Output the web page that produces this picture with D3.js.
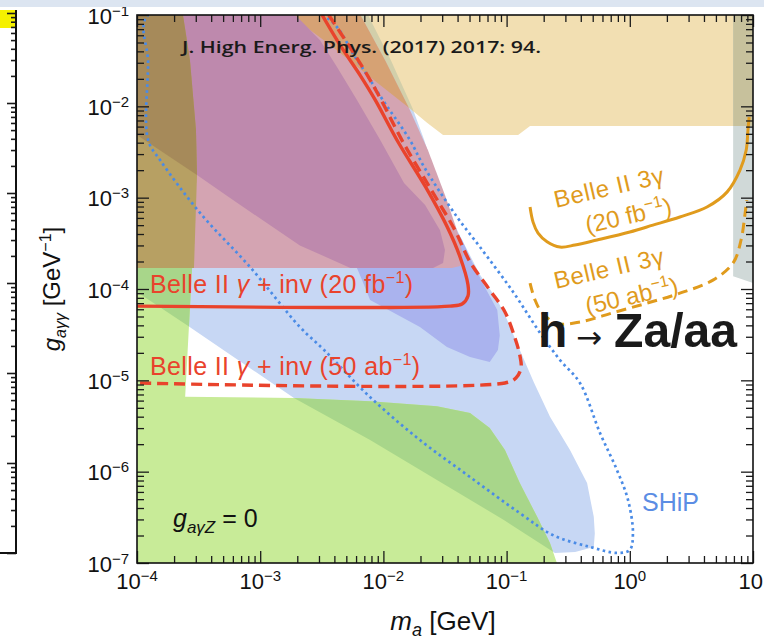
<!DOCTYPE html>
<html>
<head>
<meta charset="utf-8">
<title>ALP photon coupling limits</title>
<script src="https://cdn.jsdelivr.net/npm/d3@7/dist/d3.min.js"></script>
<style>
  html, body { margin: 0; padding: 0; background: #fff; }
  svg { display: block; }
</style>
</head>
<body>
<svg id="chart" width="764" height="642"></svg>
<script>
// Every point is [m_a in GeV, g_aγγ in GeV^-1].

// Excluded regions
const beamDumpRegion = [
  [1e-4, 1e-1], [7.5e-3, 1e-1], [1.15e-2, 3.2e-2], [1.72e-2, 9.6e-3], [2.14e-2, 4.3e-3],
  [2.65e-2, 1.77e-3], [3.3e-2, 7.3e-4], [4.35e-2, 3.44e-4], [6.1e-2, 1.42e-4], [8.4e-2, 7.6e-5],
  [1.01e-1, 4.6e-5], [1.28e-1, 2.15e-5], [1.67e-1, 9.4e-6], [2.25e-1, 4.0e-6], [3.27e-1, 1.73e-6],
  [4.5e-1, 7.5e-7], [5.1e-1, 3.2e-7], [5.2e-1, 2.1e-7], [5.1e-1, 1.5e-7], [3.6e-1, 1.32e-7],
  [2.47e-1, 1.29e-7], [9.5e-2, 2.96e-7], [2.72e-2, 8.1e-7], [7.8e-3, 2.22e-6], [1.88e-3, 6.4e-6],
  [2.55e-4, 4.0e-5], [1e-4, 9.3e-5]
];
const cosmologyRegion = [
  [1e-4, 1.7e-4], [2.8e-4, 1.7e-4], [2.46e-4, 6.6e-6], [1.88e-3, 6.4e-6], [7.8e-3, 5.9e-6],
  [2.72e-2, 5.2e-6], [5.05e-2, 4.4e-6], [7.3e-2, 3.0e-6], [9.7e-2, 1.73e-6], [1.28e-1, 7.5e-7],
  [1.77e-1, 3.2e-7], [2.25e-1, 1.66e-7], [2.56e-1, 1e-7], [1e-4, 1e-7]
];
const lepRegion = [
  [1.81e-3, 1e-1], [10, 1e-1], [10, 6.1e-3], [1.55e-1, 6.1e-3], [1.24e-1, 4.86e-3],
  [3.05e-2, 4.86e-3], [2.26e-2, 6.6e-3], [1.7e-2, 9.1e-3], [9.4e-3, 1.71e-2], [5.9e-3, 2.84e-2],
  [3.7e-3, 4.7e-2], [2.54e-3, 6.85e-2]
];
const monoPhotonRegion = [
  [4.44e-3, 2.67e-4], [2.39e-2, 1.21e-3], [3.47e-2, 5.7e-4], [4.35e-2, 3.44e-4], [5.24e-2, 1.98e-4],
  [6.7e-2, 1.03e-4], [8.4e-2, 5.9e-5], [8.8e-2, 3.1e-5], [8.5e-2, 2.15e-5], [7.3e-2, 1.59e-5],
  [5.05e-2, 1.8e-5], [3.28e-2, 2.32e-5], [1.98e-2, 3.84e-5], [7.8e-3, 7.6e-5], [6.8e-3, 1.2e-4],
  [6.1e-3, 1.7e-4]
];
const colliderRegion = [
  [6.9, 1e-1], [10, 1e-1], [10, 1.16e-4], [8.6, 1.25e-4], [6.9, 1.38e-4]
];
const supernovaRegion = [
  [1e-4, 1e-1], [6.5e-3, 1e-1], [1.03e-2, 3.2e-2], [1.64e-2, 9.1e-3], [2.3e-2, 3.3e-3],
  [3.16e-2, 1.07e-3], [3.96e-2, 4.4e-4], [4.43e-2, 2.36e-4], [4.19e-2, 1.79e-4], [3.6e-2, 1.7e-4],
  [1e-4, 1.7e-4]
];
const opalRegion = [
  [1e-4, 1e-1], [1.92e-3, 1e-1], [2.31e-3, 7.8e-2], [3.06e-3, 5.3e-2], [4.2e-3, 2.7e-2],
  [6.1e-3, 1.17e-2], [9.4e-3, 4.3e-3], [1.47e-2, 1.45e-3], [2.18e-2, 8.3e-4], [2.88e-2, 4.4e-4],
  [3.16e-2, 2.67e-4], [3.05e-2, 1.93e-4], [2.53e-2, 1.7e-4], [5.4e-3, 1.7e-4], [2.1e-3, 3.0e-4],
  [5.7e-4, 9.9e-4], [3.07e-4, 1.77e-3], [1e-4, 4.86e-3]
];
const lowMassRegion = [
  [1e-4, 1e-1], [2.36e-4, 1e-1], [2.69e-4, 3.2e-2], [3.01e-4, 5.5e-3], [3.07e-4, 1.77e-3],
  [2.9e-4, 1.7e-4], [1e-4, 1.7e-4]
];

// Projected reach
const shipReach = [
  [1.23e-4, 1e-1], [3.18e-3, 1e-1], [6.1e-3, 3.22e-2], [9.9e-3, 1.17e-2], [1.64e-2, 4.28e-3],
  [2.14e-2, 2.17e-3], [3.96e-2, 6.14e-4], [6.08e-2, 2.88e-4], [1.13e-1, 9.27e-5], [1.87e-1, 3.3e-5],
  [2.71e-1, 1.67e-5], [3.94e-1, 9.35e-6], [5.73e-1, 2.65e-6], [7.87e-1, 1.04e-6], [9.67e-1, 4.9e-7],
  [1.06, 2.13e-7], [1.0, 1.39e-7], [7.87e-1, 1.29e-7], [4.75e-1, 1.5e-7], [2.38e-1, 2.02e-7],
  [1.28e-1, 3.52e-7], [5.05e-2, 8.73e-7], [1.98e-2, 2.22e-6], [7.78e-3, 6.57e-6], [3.3e-3, 2.15e-5],
  [2.1e-3, 3.84e-5], [8.27e-4, 1.74e-4], [3.25e-4, 6.8e-4], [1.54e-4, 2.58e-3], [1.23e-4, 4.28e-3],
  [1.23e-4, 3e-2]
];
const belleInv20fb = [
  [3.18e-3, 1e-1], [4.44e-3, 4.7e-2], [6.46e-3, 2.2e-2], [8.6e-3, 1.17e-2], [1.33e-2, 3.97e-3],
  [2.2e-2, 1.31e-3], [3.3e-2, 4.77e-4], [4.19e-2, 2.24e-4], [4.86e-2, 1.11e-4], [4.86e-2, 8.4e-5],
  [4.35e-2, 6.85e-5], [3.47e-2, 6.5e-5], [1e-4, 6.5e-5]
];
const belleInv50ab = [
  [3.6e-3, 1e-1], [5.2e-3, 4.7e-2], [7.4e-3, 2.2e-2], [9.6e-3, 1.17e-2], [1.45e-2, 4.0e-3],
  [2.45e-2, 1.21e-3], [3.81e-2, 4.4e-4], [5.05e-2, 1.98e-4], [7.3e-2, 9.75e-5], [9.7e-2, 5.6e-5],
  [1.17e-1, 2.9e-5], [1.28e-1, 1.89e-5], [1.31e-1, 1.37e-5], [1.19e-1, 1.06e-5], [9.7e-2, 9.35e-6],
  [1e-4, 9.35e-6]
];
const belle3g20fb = [
  [1.55e-1, 7.9e-4], [1.64e-1, 5.4e-4], [1.8e-1, 4.1e-4], [2.13e-1, 3.3e-4], [2.71e-1, 2.88e-4],
  [3.59e-1, 3.03e-4], [5.42e-1, 3.44e-4], [1.0, 4.21e-4], [1.54, 5.0e-4], [2.55, 6.14e-4],
  [4.23, 7.9e-4], [6.15, 1.15e-3], [7.84, 2.0e-3], [8.8, 3.3e-3], [9.1, 5.5e-3], [9.3, 7.6e-3]
];
const belle3g50ab = [
  [1.55e-1, 1.16e-4], [1.7e-1, 7.6e-5], [1.94e-1, 5.5e-5], [2.56e-1, 4.2e-5], [3.94e-1, 4.35e-5],
  [7.3e-1, 5.5e-5], [1.38, 7.0e-5], [2.55, 9.0e-5], [4.73, 1.25e-4], [6.9, 1.93e-4],
  [8.0, 3.44e-4], [8.6, 6.5e-4], [8.9, 9.4e-4]
];

// Axis ticks
const massTicks = [1e-4, 1e-3, 1e-2, 1e-1, 1, 10];
const couplingTicks = [1e-7, 1e-6, 1e-5, 1e-4, 1e-3, 1e-2, 1e-1];
const minorSteps = [2, 3, 4, 5, 6, 7, 8, 9];
const neighborTicks = [1e-6, 1e-5, 1e-4, 1e-3, 1e-2, 1e-1, 1];

// ---------------------------------------------------------------------------
const WIDTH = 764, HEIGHT = 642;
const svg = d3.select("#chart");
const x = d3.scaleLog().domain([1e-4, 10]).range([137, 753]);
const y = d3.scaleLog().domain([1e-7, 1e-1]).range([563, 15]);
const [x0, x1] = x.range();
const [y1, y0] = y.range();

const regionPath = d3.line().x(d => x(d[0])).y(d => y(d[1])).curve(d3.curveLinearClosed);
const curvePath = d3.line().x(d => x(d[0])).y(d => y(d[1])).curve(d3.curveCatmullRom.alpha(0.5));
const loopPath = d3.line().x(d => x(d[0])).y(d => y(d[1])).curve(d3.curveCatmullRomClosed.alpha(0.5));

const minorOf = majors => majors.slice(0, -1).flatMap(v => minorSteps.map(k => v * k));
const expText = v => { const e = Math.round(Math.log10(v)); return e < 0 ? "\u2212" + (-e) : String(e); };

svg.append("rect").attr("width", WIDTH).attr("height", HEIGHT).attr("fill", "#fff");

const defs = svg.append("defs");
defs.append("clipPath").attr("id", "plot-area")
  .append("rect").attr("x", x0).attr("y", y0).attr("width", x1 - x0).attr("height", y1 - y0);
const clipRegions = { beamDump: beamDumpRegion, lep: lepRegion, supernova: supernovaRegion, opal: opalRegion };
Object.entries(clipRegions).forEach(([id, pts]) => {
  defs.append("clipPath").attr("id", "in-" + id).append("path").attr("d", regionPath(pts));
});

// Filled regions; "within" paints the overlap of a region with another one
const layers = [
  { region: beamDumpRegion, fill: "#c7d7f4" },
  { region: cosmologyRegion, fill: "#c8eb98" },
  { region: cosmologyRegion, within: "beamDump", fill: "#a8d68a" },
  { region: monoPhotonRegion, fill: "#aab3ee" },
  { region: lepRegion, fill: "#f2dfb2" },
  { region: lepRegion, within: "beamDump", fill: "#d2cfaa" },
  { region: colliderRegion, fill: "#d0d9d8" },
  { region: colliderRegion, within: "lep", fill: "#c7c19c" },
  { region: supernovaRegion, fill: "#d4a4b2" },
  { region: lepRegion, within: "supernova", fill: "#d6a274" },
  { region: opalRegion, fill: "#be89ad" },
  { region: lowMassRegion, fill: "#b7a063" },
  { region: lowMassRegion, within: "opal", fill: "#a68a5a" }
];

const plot = svg.append("g").attr("clip-path", "url(#plot-area)");
layers.forEach(l => {
  plot.append("path")
    .attr("d", regionPath(l.region))
    .attr("fill", l.fill)
    .attr("clip-path", l.within ? `url(#in-${l.within})` : null);
});

// Reach curves
const curves = [
  { pts: shipReach, loop: true, stroke: "#4a8be6", width: 2.7, dash: "2.6 3.4" },
  { pts: belleInv20fb, stroke: "#e9432c", width: 3.4 },
  { pts: belleInv50ab, stroke: "#e9432c", width: 3.4, dash: "11 6" },
  { pts: belle3g20fb, stroke: "#e09b1d", width: 3 },
  { pts: belle3g50ab, stroke: "#e09b1d", width: 3, dash: "10 6" }
];
curves.forEach(c => {
  plot.append("path")
    .attr("d", c.loop ? loopPath(c.pts) : curvePath(c.pts))
    .attr("fill", "none")
    .attr("stroke", c.stroke)
    .attr("stroke-width", c.width)
    .attr("stroke-dasharray", c.dash || null)
    .attr("stroke-linejoin", "round");
});

// Frame and inward ticks on all four sides
const tickStyle = g => g.call(s => s.select(".domain").remove())
  .call(s => s.selectAll("line").attr("stroke", "#1a1a1a").attr("stroke-width", 1.3))
  .call(s => s.selectAll("text").remove());
const axes = [
  [d3.axisBottom(x), `translate(0,${y1})`, massTicks],
  [d3.axisTop(x), `translate(0,${y0})`, massTicks],
  [d3.axisLeft(y), `translate(${x0},0)`, couplingTicks],
  [d3.axisRight(y), `translate(${x1},0)`, couplingTicks]
];
axes.forEach(([ax, tr, majors]) => {
  svg.append("g").attr("transform", tr).call(ax.tickValues(majors).tickSize(-12)).call(tickStyle);
  svg.append("g").attr("transform", tr).call(ax.tickValues(minorOf(majors)).tickSize(-7)).call(tickStyle);
});
svg.append("rect").attr("x", x0).attr("y", y0).attr("width", x1 - x0).attr("height", y1 - y0)
  .attr("fill", "none").attr("stroke", "#111").attr("stroke-width", 1.6);

const FONT = "'Liberation Sans', Arial, Helvetica, sans-serif";

// Powers of ten; a label that would run past the page edge keeps only its mantissa
function powerLabel(v, px, py, anchor) {
  const fits = anchor !== "middle" || px + 18 <= WIDTH;
  const t = svg.append("text").attr("x", fits ? px : WIDTH - 1).attr("y", py)
    .attr("text-anchor", fits ? anchor : "end")
    .attr("font-family", FONT).attr("font-size", 22).attr("fill", "#111");
  t.append("tspan").text("10");
  if (fits) t.append("tspan").attr("dy", -8).attr("font-size", 15).text(expText(v));
}
massTicks.forEach(v => powerLabel(v, x(v), 589, "middle"));
couplingTicks.forEach(v => powerLabel(v, 129, y(v) + 8.5, "end"));

// Axis titles
const xt = svg.append("text").attr("x", (x0 + x1) / 2 - 2).attr("y", 630).attr("text-anchor", "middle")
  .attr("font-family", FONT).attr("font-size", 26).attr("fill", "#111");
xt.append("tspan").attr("font-style", "italic").text("m");
xt.append("tspan").attr("font-style", "italic").attr("font-size", 18).attr("dy", 6).text("a");
xt.append("tspan").attr("dy", -6).text(" [GeV]");

const yt = svg.append("text").attr("transform", `translate(60,${(y0 + y1) / 2}) rotate(-90)`)
  .attr("text-anchor", "middle").attr("font-family", FONT).attr("font-size", 24).attr("fill", "#111");
yt.append("tspan").attr("font-style", "italic").text("g");
yt.append("tspan").attr("font-style", "italic").attr("font-size", 16).attr("dy", 6).text("a\u03b3\u03b3");
yt.append("tspan").attr("dy", -6).text(" [GeV");
yt.append("tspan").attr("font-size", 16).attr("dy", -9).text("\u22121");
yt.append("tspan").attr("dy", 9).text("]");

// Annotations
svg.append("text").attr("x", 182).attr("y", 53)
  .attr("font-family", "'Open Sans', 'DejaVu Sans', sans-serif").attr("font-weight", 600)
  .attr("font-size", 17).attr("fill", "#1a1a1a")
  .attr("textLength", 359).attr("lengthAdjust", "spacingAndGlyphs")
  .text("J. High Energ. Phys. (2017) 2017: 94.");

function redLabel(px, py, lumi, unit, len) {
  const t = svg.append("text").attr("x", px).attr("y", py).attr("font-family", FONT)
    .attr("font-size", 25).attr("fill", "#e9432c")
    .attr("textLength", len).attr("lengthAdjust", "spacing");
  t.append("tspan").text("Belle II ");
  t.append("tspan").attr("font-style", "italic").text("\u03b3");
  t.append("tspan").text(` + inv (${lumi} ${unit}`);
  t.append("tspan").attr("font-size", 16).attr("dy", -10).text("\u22121");
  t.append("tspan").attr("dy", 10).text(")");
}
redLabel(150, 293, "20", "fb", 263);
redLabel(150, 375, "50", "ab", 270);

function orangeLabel(px, py, lumi, unit) {
  const g = svg.append("g").attr("transform", `translate(${px},${py}) rotate(-13)`)
    .attr("font-family", FONT).attr("font-size", 24).attr("fill", "#e09b1d");
  g.append("text").attr("textLength", 112).attr("lengthAdjust", "spacing").text("Belle II 3\u03b3");
  const t = g.append("text").attr("x", 25).attr("y", 32);
  t.append("tspan").text(`(${lumi} ${unit}`);
  t.append("tspan").attr("font-size", 16).attr("dy", -10).text("\u22121");
  t.append("tspan").attr("dy", 10).text(")");
}
orangeLabel(556, 208, "20", "fb");
orangeLabel(556, 289, "50", "ab");

svg.append("text").attr("x", 642).attr("y", 511).attr("font-family", FONT)
  .attr("font-size", 25).attr("fill", "#5b8de4").text("SHiP");

const gz = svg.append("text").attr("x", 173).attr("y", 527).attr("font-family", FONT)
  .attr("font-size", 25).attr("fill", "#111");
gz.append("tspan").attr("font-style", "italic").text("g");
gz.append("tspan").attr("font-style", "italic").attr("font-size", 17).attr("dy", 6).text("a\u03b3Z");
gz.append("tspan").attr("dy", -6).text(" = 0");

svg.append("text").attr("x", 538).attr("y", 347).attr("font-family", FONT)
  .attr("font-weight", 700).attr("font-size", 48).attr("fill", "#1a1a1a").text("h");
svg.append("text").attr("x", 576).attr("y", 348).attr("font-family", "'DejaVu Sans', sans-serif")
  .attr("font-size", 31).attr("fill", "#1a1a1a").text("\u2192");
svg.append("text").attr("x", 614).attr("y", 347).attr("font-family", FONT)
  .attr("font-weight", 700).attr("font-size", 48).attr("fill", "#1a1a1a")
  .attr("textLength", 123).attr("lengthAdjust", "spacingAndGlyphs").text("Za/aa");

// Edge of the neighbouring panel on the left and the page band above
svg.append("rect").attr("x", 0).attr("y", 0).attr("width", WIDTH).attr("height", 7).attr("fill", "#dce5f1");
const ny = d3.scaleLog().domain([1e-6, 1]).range([553, 13]);
svg.append("rect").attr("x", 0).attr("y", 10).attr("width", 16).attr("height", 18).attr("fill", "#f5f000");
const neighbor = svg.append("g").attr("transform", "translate(16,0)");
neighbor.call(d3.axisLeft(ny).tickValues(neighborTicks).tickSize(9)).call(tickStyle);
neighbor.append("g").call(d3.axisLeft(ny).tickValues(minorOf(neighborTicks)).tickSize(5)).call(tickStyle);
neighbor.selectAll("line").attr("stroke-width", 1.6);
svg.append("path").attr("d", "M16,10V553H0").attr("fill", "none").attr("stroke", "#111").attr("stroke-width", 2);
</script>
</body>
</html>
